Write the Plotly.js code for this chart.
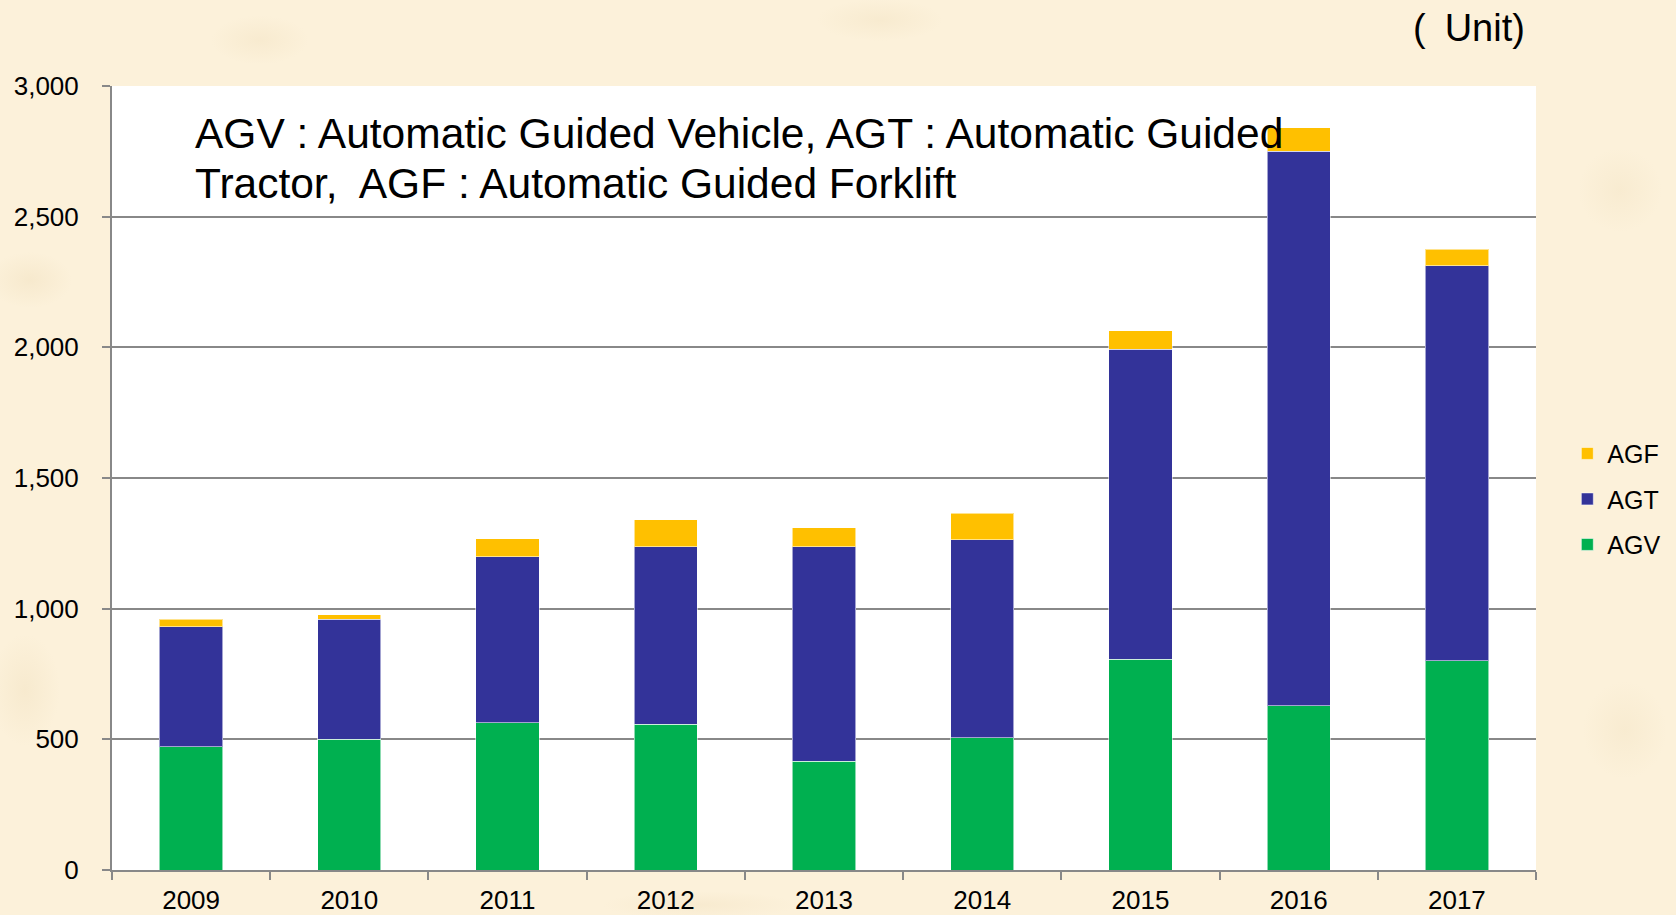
<!DOCTYPE html>
<html>
<head>
<meta charset="utf-8">
<script src="https://cdn.plot.ly/plotly-3.0.1.min.js"></script>
<style>
  html, body { margin: 0; padding: 0; }
  body {
    width: 1676px; height: 915px; overflow: hidden;
    background-color: #FCF1DA;
    background-image:
      radial-gradient(ellipse 60px 40px at 30px 280px, rgba(228,205,160,0.22), rgba(228,205,160,0) 70%),
      radial-gradient(ellipse 70px 35px at 260px 40px, rgba(228,205,160,0.18), rgba(228,205,160,0) 70%),
      radial-gradient(ellipse 90px 30px at 880px 20px, rgba(228,205,160,0.18), rgba(228,205,160,0) 70%),
      radial-gradient(ellipse 60px 60px at 1620px 190px, rgba(228,205,160,0.16), rgba(228,205,160,0) 70%),
      radial-gradient(ellipse 50px 80px at 25px 690px, rgba(228,205,160,0.20), rgba(228,205,160,0) 70%),
      radial-gradient(ellipse 60px 70px at 1625px 730px, rgba(228,205,160,0.16), rgba(228,205,160,0) 70%),
      radial-gradient(ellipse 140px 20px at 700px 905px, rgba(228,205,160,0.18), rgba(228,205,160,0) 70%);
  }
  #chart { width: 1676px; height: 915px; }
</style>
</head>
<body>
<div id="chart"></div>
<script>
const years = ["2009", "2010", "2011", "2012", "2013", "2014", "2015", "2016", "2017"];
const agv = [471, 500, 564, 557, 417, 506, 807, 629, 800];
const agt = [460, 459, 635, 680, 820, 758, 1185, 2122, 1512];
const agf = [28, 17, 68, 104, 73, 101, 71, 89, 63];
const yTicks = [0, 500, 1000, 1500, 2000, 2500, 3000];
const noteLine1 = "AGV : Automatic Guided Vehicle, AGT : Automatic Guided";
const noteLine2 = "Tractor,  AGF : Automatic Guided Forklift";
const unitLabel = "(\u2002Unit)";

const barLine = { color: "rgba(255,255,255,0.55)", width: 1 };
const traces = [
  { type: "bar", name: "AGV", x: years, y: agv, legendgroup: "g1", legendrank: 3,
    marker: { color: "#00B050", line: barLine }, hoverinfo: "x+y+name" },
  { type: "bar", name: "AGT", x: years, y: agt, legendgroup: "g2", legendrank: 2,
    marker: { color: "#333399", line: barLine }, hoverinfo: "x+y+name" },
  { type: "bar", name: "AGF", x: years, y: agf, legendgroup: "g3", legendrank: 1,
    marker: { color: "#FFC000", line: barLine }, hoverinfo: "x+y+name" }
];

const font = "Arial, 'Liberation Sans', sans-serif";
const layout = {
  width: 1676, height: 915,
  margin: { l: 112, r: 140, t: 86, b: 45, autoexpand: false },
  paper_bgcolor: "rgba(0,0,0,0)",
  plot_bgcolor: "#FFFFFF",
  barmode: "stack",
  bargap: 0.6,
  font: { family: font, color: "#000000", size: 25 },
  showlegend: true,
  legend: {
    x: 1.022, xanchor: "left", y: 0.473, yanchor: "middle",
    traceorder: "grouped", tracegroupgap: 10,
    font: { family: font, size: 25, color: "#000000" },
    bgcolor: "rgba(0,0,0,0)", borderwidth: 0
  },
  xaxis: {
    type: "category",
    tickson: "boundaries",
    ticks: "outside", ticklen: 8, tickwidth: 2, tickcolor: "#888888",
    showline: true, linecolor: "#888888", linewidth: 2,
    showgrid: false,
    tickfont: { family: font, size: 26, color: "#000000" },
    ticklabelstandoff: 6,
    fixedrange: true
  },
  yaxis: {
    range: [0, 3000],
    tickvals: yTicks,
    tickformat: ",d",
    ticks: "outside", ticklen: 8, tickwidth: 2, tickcolor: "#888888",
    showline: true, linecolor: "#888888", linewidth: 2,
    showgrid: true, gridcolor: "#888888", gridwidth: 2,
    zeroline: false,
    tickfont: { family: font, size: 26, color: "#000000" },
    ticklabelstandoff: 18,
    fixedrange: true
  },
  annotations: [
    {
      xref: "paper", yref: "paper", x: 0.0572, y: 0.9393,
      xanchor: "left", yanchor: "middle", align: "left", showarrow: false,
      text: noteLine1,
      font: { family: font, size: 42.5, color: "#000000" }
    },
    {
      xref: "paper", yref: "paper", x: 0.0572, y: 0.8751,
      xanchor: "left", yanchor: "middle", align: "left", showarrow: false,
      text: noteLine2,
      font: { family: font, size: 42.5, color: "#000000" }
    },
    {
      xref: "paper", yref: "paper", x: 0.9937, y: 1.074,
      xanchor: "right", yanchor: "middle", showarrow: false,
      text: unitLabel,
      font: { family: font, size: 38, color: "#000000" }
    }
  ]
};

Plotly.newPlot("chart", traces, layout, { displayModeBar: false, staticPlot: true });
</script>
</body>
</html>
